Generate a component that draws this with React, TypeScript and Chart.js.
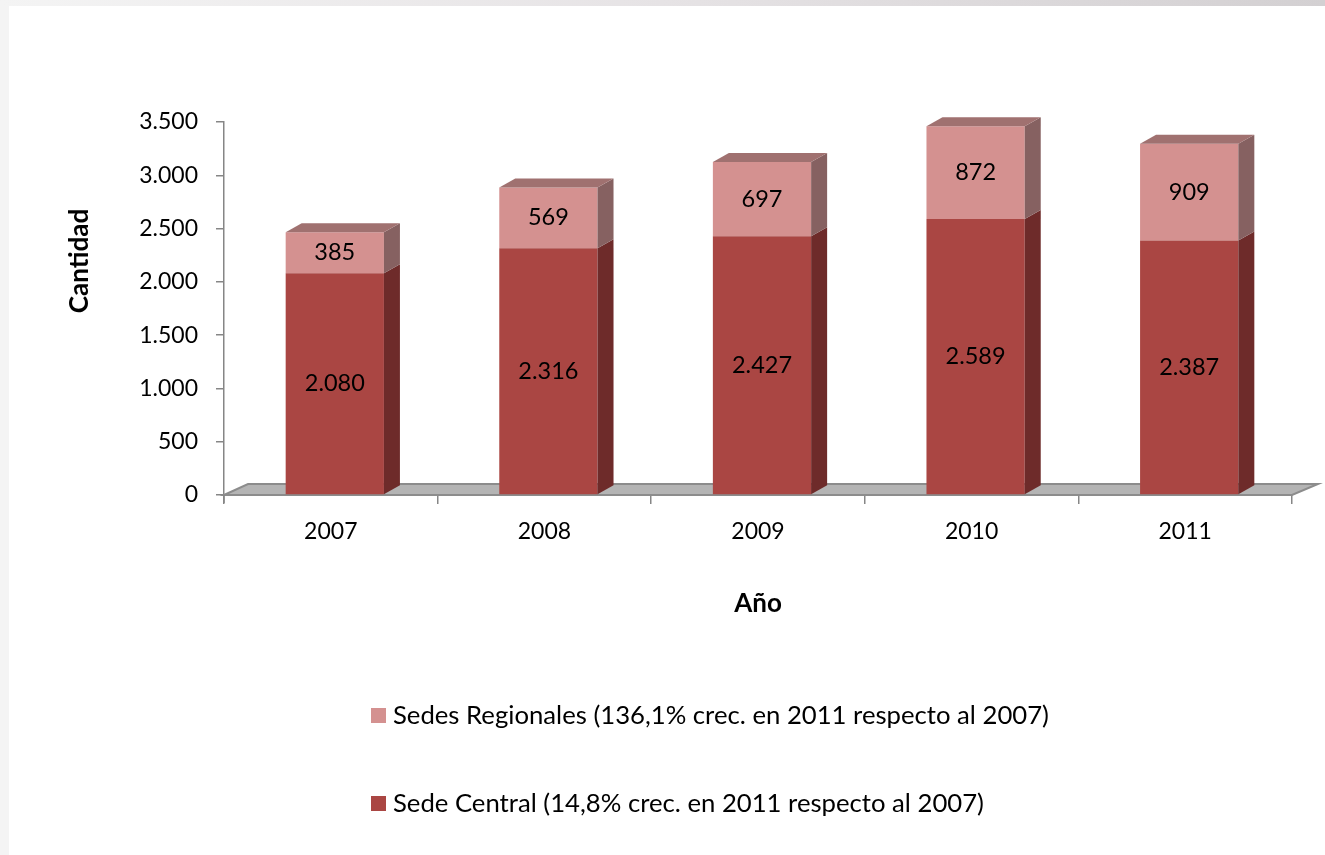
import React, { useEffect, useRef } from "react";
import { Chart, registerables } from "chart.js";

Chart.register(...registerables);

const years = ["2007", "2008", "2009", "2010", "2011"];
const sedeCentral = [2080, 2316, 2427, 2589, 2387];
const sedesRegionales = [385, 569, 697, 872, 909];
const yTicks = [0, 500, 1000, 1500, 2000, 2500, 3000, 3500];
const legendLabels = [
  "Sedes Regionales (136,1% crec. en 2011 respecto al 2007)",
  "Sede Central (14,8% crec. en 2011 respecto al 2007)",
];
const yTitle = "Cantidad";
const xTitle = "Año";

const FONT = "Lato";
const C_DARK = "#AA4643";
const C_LIGHT = "#D49190";
const C_DARK_SIDE = "#6E2B2A";
const C_LIGHT_SIDE = "#866161";
const C_LIGHT_TOP = "#A07170";
const AXIS = "#868686";
const PERSPECTIVE_SHIFT = 4;

const fmt = (v: number) => String(v).replace(/\B(?=(\d{3})+(?!\d))/g, ".");

const bgPlugin = {
  id: "bg",
  beforeDraw(chart: any) {
    const ctx = chart.ctx;
    const w = chart.width, h = chart.height;
    ctx.save();
    ctx.fillStyle = "#ffffff";
    ctx.fillRect(0, 0, w, h);
    const g = ctx.createLinearGradient(0, 0, w, 0);
    g.addColorStop(0, "#f4f4f4");
    g.addColorStop(0.5, "#e6e3e5");
    g.addColorStop(1, "#d3d0d2");
    ctx.fillStyle = g;
    ctx.fillRect(0, 0, w, 6);
    ctx.fillStyle = "#f4f4f4";
    ctx.fillRect(0, 6, 9, h - 6);
    ctx.restore();
  },
};

const shiftPlugin = {
  id: "shift",
  afterDatasetsUpdate(chart: any) {
    chart.data.datasets.forEach((_: any, di: number) => {
      chart.getDatasetMeta(di).data.forEach((el: any) => {
        el.x += PERSPECTIVE_SHIFT;
      });
    });
  },
};

const floorPlugin = {
  id: "floor",
  beforeDatasetsDraw(chart: any) {
    const { ctx, chartArea } = chart;
    const l = chartArea.left, r = chartArea.right, b = chartArea.bottom;
    ctx.save();
    ctx.beginPath();
    ctx.moveTo(l, b);
    ctx.lineTo(l + 24, b - 11);
    ctx.lineTo(r + 26, b - 11);
    ctx.lineTo(r, b);
    ctx.closePath();
    ctx.fillStyle = "#b4b4b4";
    ctx.fill();
    ctx.strokeStyle = "#8c8c8c";
    ctx.lineWidth = 2;
    ctx.stroke();
    ctx.beginPath();
    ctx.strokeStyle = AXIS;
    ctx.lineWidth = 1.5;
    ctx.moveTo(l, b);
    ctx.lineTo(l, b + 8);
    ctx.stroke();
    ctx.save();
    ctx.translate(80, 261);
    ctx.rotate(-Math.PI / 2);
    ctx.font = `bold 26px ${FONT}`;
    ctx.fillStyle = "#000000";
    ctx.textAlign = "center";
    ctx.textBaseline = "middle";
    ctx.fillText(yTitle, 0, 0);
    ctx.restore();
    ctx.restore();
  },
};

const bar3dPlugin = {
  id: "bar3d",
  afterDatasetsDraw(chart: any) {
    const ctx = chart.ctx;
    const dx = 16, dy = -9;
    ctx.save();
    chart.data.datasets.forEach((ds: any, di: number) => {
      const meta = chart.getDatasetMeta(di);
      meta.data.forEach((el: any) => {
        const { x, y, base, width } = el.getProps(["x", "y", "base", "width"], true);
        const left = x - width / 2, right = x + width / 2;
        ctx.beginPath();
        ctx.moveTo(right, y);
        ctx.lineTo(right + dx, y + dy);
        ctx.lineTo(right + dx, base + dy);
        ctx.lineTo(right, base);
        ctx.closePath();
        ctx.fillStyle = di === 0 ? C_DARK_SIDE : C_LIGHT_SIDE;
        ctx.fill();
        if (di === chart.data.datasets.length - 1) {
          ctx.beginPath();
          ctx.moveTo(left, y);
          ctx.lineTo(left + dx, y + dy);
          ctx.lineTo(right + dx, y + dy);
          ctx.lineTo(right, y);
          ctx.closePath();
          ctx.fillStyle = C_LIGHT_TOP;
          ctx.fill();
        }
      });
    });
    ctx.fillStyle = "#000000";
    ctx.font = `23.5px ${FONT}`;
    ctx.textAlign = "center";
    ctx.textBaseline = "middle";
    chart.data.datasets.forEach((ds: any, di: number) => {
      const meta = chart.getDatasetMeta(di);
      meta.data.forEach((el: any, i: number) => {
        const { x, y, base } = el.getProps(["x", "y", "base"], true);
        ctx.fillText(fmt(ds.data[i]), x, (y + base) / 2);
      });
    });
    ctx.restore();
  },
};

const legendPlugin = {
  id: "customLegend",
  afterDraw(chart: any) {
    const ctx = chart.ctx;
    ctx.save();
    const items = [
      { label: legendLabels[0], color: C_LIGHT, y: 716 },
      { label: legendLabels[1], color: C_DARK, y: 804 },
    ];
    ctx.font = `25.7px ${FONT}`;
    ctx.textAlign = "left";
    ctx.textBaseline = "middle";
    items.forEach((it) => {
      ctx.fillStyle = it.color;
      ctx.fillRect(371, it.y - 8, 15, 15);
      ctx.fillStyle = "#000000";
      ctx.fillText(it.label, 393, it.y);
    });
    ctx.restore();
  },
};

export default function App() {
  const ref = useRef<HTMLCanvasElement | null>(null);
  useEffect(() => {
    document.body.style.margin = "0";
    const canvas = ref.current!;
    const chart = new Chart(canvas, {
      type: "bar",
      data: {
        labels: years,
        datasets: [
          {
            label: legendLabels[1],
            data: sedeCentral,
            backgroundColor: C_DARK,
            borderWidth: 0,
            categoryPercentage: 1,
            barPercentage: 0.46,
          },
          {
            label: legendLabels[0],
            data: sedesRegionales,
            backgroundColor: C_LIGHT,
            borderWidth: 0,
            categoryPercentage: 1,
            barPercentage: 0.46,
          },
        ],
      },
      options: {
        animation: false,
        responsive: false,
        devicePixelRatio: 1,
        layout: { padding: { left: 60, top: 122, right: 33, bottom: 230 } },
        plugins: {
          legend: { display: false },
          tooltip: { enabled: false },
        },
        scales: {
          x: {
            stacked: true,
            afterFit: (s: any) => {
              s.height = 130;
            },
            grid: {
              offset: true,
              drawOnChartArea: false,
              tickLength: 9,
              color: AXIS,
              lineWidth: 1.5,
            },
            border: { display: false },
            ticks: {
              color: "#000000",
              font: { family: FONT, size: 23 },
              padding: 14,
            },
            title: {
              display: true,
              text: xTitle,
              color: "#000000",
              font: { family: FONT, size: 26, weight: "bold" },
              padding: { top: 0, bottom: 6 },
            },
          },
          y: {
            stacked: true,
            min: 0,
            max: 3500,
            afterFit: (s: any) => {
              s.width = 164;
            },
            afterBuildTicks: (s: any) => {
              s.ticks = yTicks.map((v) => ({ value: v }));
            },
            grid: {
              drawOnChartArea: false,
              tickLength: 8,
              color: AXIS,
              lineWidth: 1.5,
            },
            border: { display: true, color: AXIS, width: 1.5 },
            ticks: {
              color: "#000000",
              font: { family: FONT, size: 23 },
              padding: 18,
              callback: (v: any) => fmt(Number(v)),
            },
            title: { display: false },
          },
        },
      },
      plugins: [bgPlugin, shiftPlugin, floorPlugin, bar3dPlugin, legendPlugin],
    });
    return () => chart.destroy();
  }, []);
  return (
    <canvas
      ref={ref}
      width={1325}
      height={855}
      style={{ display: "block", width: 1325, height: 855 }}
    />
  );
}
